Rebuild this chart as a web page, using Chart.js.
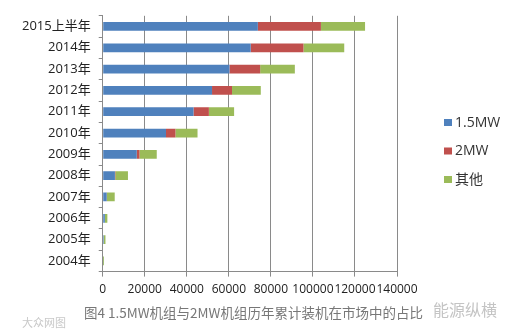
<!DOCTYPE html>
<html>
<head>
<meta charset="utf-8">
<script src="https://cdn.jsdelivr.net/npm/chart.js@4"></script>
<style>
  html, body { margin: 0; padding: 0; background: #fff; }
  #wrap { position: relative; width: 516px; height: 333px; }
  #caption { position: absolute; left: 84px; top: 302px; font: 13.5px "Noto Sans CJK SC", sans-serif; color: #777; white-space: nowrap; }
  #mark1 { position: absolute; left: 22px; top: 314px; font: 11px "Noto Sans CJK SC", sans-serif; color: #c8c8c8; }
  #mark2 { position: absolute; left: 433px; top: 297px; font: 16px "Noto Sans CJK SC", sans-serif; color: #c4c4c4; }
</style>
</head>
<body>
<div id="wrap">
  <canvas id="grafico" width="516" height="333"></canvas>
  <div id="caption">图4 1.5MW机组与2MW机组历年累计装机在市场中的占比</div>
  <div id="mark1">大众网图</div>
  <div id="mark2">能源纵横</div>
</div>
<script>
// data (cumulative capacity, stacked)
const anos = ['2004年', '2005年', '2006年', '2007年', '2008年', '2009年',
  '2010年', '2011年', '2012年', '2013年', '2014年', '2015上半年'];
const mw15 = [200, 500, 1000, 1900, 5800, 16200, 30100, 43200, 52000, 60300, 70400, 73800];
const mw2 = [0, 0, 0, 100, 200, 1300, 4500, 7300, 9500, 14600, 25100, 30000];
const outros = [400, 800, 1200, 3700, 6000, 8200, 10500, 12000, 13700, 16500, 19400, 21000];
const xTicks = [0, 20000, 40000, 60000, 80000, 100000, 120000, 140000];

const fonteNum = '"Open Sans", "Noto Sans CJK SC", sans-serif';
const cinza = '#8a8a8a';

// legenda desenhada a partir dos datasets, ao lado direito da area do grafico
const legendaPlugin = {
  id: 'legenda',
  afterDraw(chart) {
    const c = chart.ctx;
    const x = chart.chartArea.right + 47;
    const y0 = 123;
    c.save();
    c.font = '14px ' + fonteNum;
    c.textBaseline = 'middle';
    chart.data.datasets.forEach((ds, i) => {
      const y = y0 + i * 28.5;
      c.fillStyle = ds.backgroundColor;
      c.fillRect(x, y - 4, 8, 7);
      c.fillStyle = '#333';
      c.fillText(ds.label, x + 11, y);
    });
    c.restore();
  }
};

window.onload = function() {
  let ctx = document.getElementById('grafico').getContext('2d');
  new Chart(ctx, {
    type: 'bar',
    data: {
      labels: anos,
      datasets: [
        { label: '1.5MW', data: mw15, backgroundColor: '#4f81bd' },
        { label: '2MW', data: mw2, backgroundColor: '#c0504d' },
        { label: '其他', data: outros, backgroundColor: '#9bbb59' }
      ]
    },
    plugins: [legendaPlugin],
    options: {
      indexAxis: 'y',
      responsive: false,
      animation: false,
      datasets: { bar: { categoryPercentage: 1, barPercentage: 0.41 } },
      layout: { padding: { left: 14, right: 119, top: 15, bottom: 30 } },
      plugins: {
        tooltip: { enabled: false },
        legend: { display: false }
      },
      scales: {
        x: {
          stacked: true,
          min: 0, max: 140000,
          afterBuildTicks: function(axis) { axis.ticks = xTicks.map(v => ({ value: v })); },
          ticks: {
            autoSkip: false, maxRotation: 0, padding: 6,
            color: '#222',
            font: { family: fonteNum, size: 12 },
            callback: v => String(v)
          },
          grid: { color: cinza, tickLength: 5 },
          border: { display: true, color: cinza }
        },
        y: {
          stacked: true,
          reverse: true,
          ticks: {
            padding: 8,
            color: '#222',
            font: { family: fonteNum, size: 13 }
          },
          grid: { drawOnChartArea: false, offset: true, tickLength: 4, color: cinza },
          border: { display: true, color: cinza }
        }
      }
    }
  });
};
</script>
</body>
</html>
